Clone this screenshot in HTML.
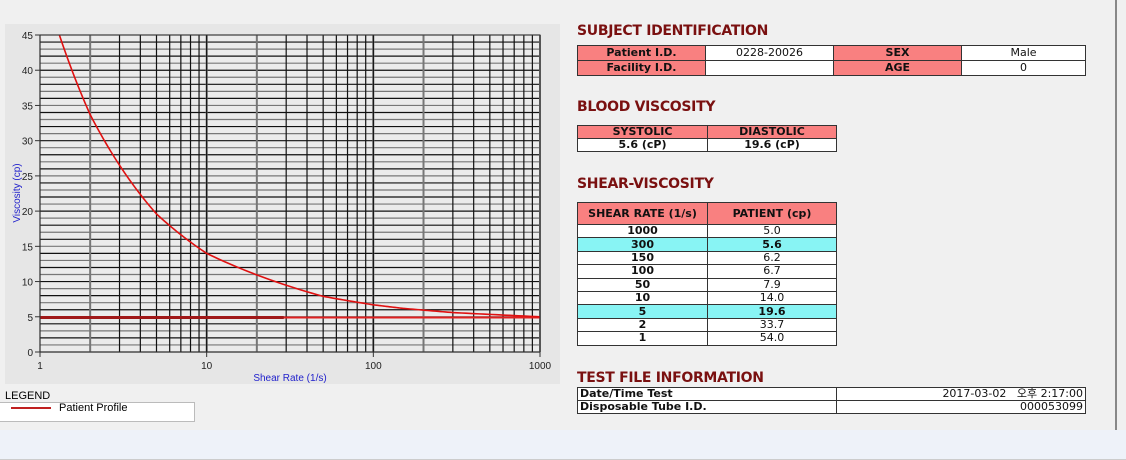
<!DOCTYPE html>
<html><head><meta charset="utf-8"><style>
body{margin:0;width:1126px;height:459px;background:#f0f0f0;position:relative;overflow:hidden;font-family:"Liberation Sans",sans-serif}
.abs{position:absolute}
.title{position:absolute;left:577px;font:bold 14px "DejaVu Sans","Liberation Sans",sans-serif;color:#7a1010;letter-spacing:-0.3px}
table{position:absolute;border-collapse:collapse;font:11px "DejaVu Sans","Liberation Sans","Noto Sans CJK KR",sans-serif;color:#111}
td{border:1px solid #333;padding:0 2px;text-align:center;height:14px;line-height:14px;background:#fff;white-space:nowrap}
td.h{background:#f98080;font-weight:bold}
tr.cy td{background:#88f4f4;font-weight:bold}
td.b{font-weight:bold}
.sv td{height:12.4px;line-height:12px}
</style></head><body>
<div class="abs" style="left:5px;top:24px;width:555px;height:360px;background:#e6e6e6"></div>
<svg class="abs" style="left:0;top:0" width="560" height="390" id="chart"></svg>
<div class="abs" style="left:0;top:402px;width:194px;height:18px;border:1px solid #bbb;border-left:none;background:#fff"></div>
<div class="abs" style="left:4px;top:390px;font-size:11px;background:#f0f0f0;padding:0 1px">LEGEND</div>
<div class="abs" style="left:11px;top:401px;font-size:11px;line-height:14px"><span style="display:inline-block;width:40px;height:2px;background:#c02020;vertical-align:middle;margin-right:8px"></span>Patient Profile</div>

<div class="title" style="top:23px">SUBJECT IDENTIFICATION</div>
<table style="left:577px;top:45px;width:509px">
<tr><td class="h" style="width:123px">Patient I.D.</td><td style="width:123px">0228-20026</td><td class="h" style="width:123px">SEX</td><td>Male</td></tr>
<tr><td class="h">Facility I.D.</td><td></td><td class="h">AGE</td><td>0</td></tr></table>

<div class="title" style="top:99px">BLOOD VISCOSITY</div>
<table style="left:577px;top:125px;width:260px">
<tr><td class="h" style="width:125px;height:12px;line-height:12px">SYSTOLIC</td><td class="h" style="height:12px;line-height:12px">DIASTOLIC</td></tr>
<tr><td class="b" style="height:12px;line-height:12px">5.6 (cP)</td><td class="b" style="height:12px;line-height:12px">19.6 (cP)</td></tr></table>

<div class="title" style="top:176px">SHEAR-VISCOSITY</div>
<table class="sv" style="left:577px;top:202px;width:260px">
<tr><td class="h" style="width:125px;height:21px;line-height:14px">SHEAR RATE (1/s)</td><td class="h" style="height:21px;line-height:14px">PATIENT (cp)</td></tr>
<tr><td class="b">1000</td><td>5.0</td></tr>
<tr class="cy"><td>300</td><td>5.6</td></tr>
<tr><td class="b">150</td><td>6.2</td></tr>
<tr><td class="b">100</td><td>6.7</td></tr>
<tr><td class="b">50</td><td>7.9</td></tr>
<tr><td class="b">10</td><td>14.0</td></tr>
<tr class="cy"><td>5</td><td>19.6</td></tr>
<tr><td class="b">2</td><td>33.7</td></tr>
<tr><td class="b">1</td><td>54.0</td></tr></table>

<div class="title" style="top:370px">TEST FILE INFORMATION</div>
<table style="left:577px;top:387px;width:509px">
<tr><td class="b" style="width:254px;text-align:left;height:12px;line-height:12px">Date/Time Test</td><td style="text-align:right;height:12px;line-height:12px">2017-03-02&nbsp;&nbsp;&nbsp;오후 2:17:00</td></tr>
<tr><td class="b" style="text-align:left;height:12px;line-height:12px">Disposable Tube I.D.</td><td style="text-align:right;height:12px;line-height:12px">000053099</td></tr></table>

<div class="abs" style="left:1115px;top:0;width:2px;height:430px;background:#888"></div>
<div class="abs" style="left:0;top:430px;width:1126px;height:29px;background:#eef2f9;border-bottom:1px solid #ccc"></div>

<script>
const shearRates=[1,2,5,10,50,100,150,300,1000];
const viscosity=[54.0,33.7,19.6,14.0,7.9,6.7,6.2,5.6,5.0];
const refLevel=[4.9];
const yTicks=[0,5,10,15,20,25,30,35,40,45];
const xTicks=[1,10,100,1000];
const X0=40,X1=540,Y0=352,Y1=35;
const xs=v=>X0+(Math.log10(v))/3*(X1-X0);
const ys=v=>Y0-v/45*(Y0-Y1);
const svg=document.getElementById('chart');
const NS='http://www.w3.org/2000/svg';
function mk(t,a){const e=document.createElementNS(NS,t);for(const k in a)e.setAttribute(k,a[k]);svg.appendChild(e);return e;}
let bg=mk('rect',{x:X0,y:Y1,width:X1-X0,height:Y0-Y1,fill:'#ebebeb'});


for(let v=0;v<=45;v++){const l=mk('line',{x1:X0,x2:X1,y1:ys(v),y2:ys(v),stroke:v%2?'#777':'#111','stroke-width':1.2});

}
for(let d=1;d<=100;d*=10)for(let m=1;m<=10;m++){const v=d*m;const g=(m==2||m==10);const l=mk('line',{x1:xs(v),x2:xs(v),y1:Y1,y2:Y0,stroke:g?'#777':'#111','stroke-width':g?2:1.2});

}
yTicks.forEach(v=>{mk('line',{x1:X0-5,x2:X0,y1:ys(v),y2:ys(v),stroke:'#333'});
const t=mk('text',{x:X0-7,y:ys(v)+4,'text-anchor':'end','font-size':10,fill:'#222','font-family':'Liberation Sans'});t.textContent=v;

});
xTicks.forEach(v=>{mk('line',{x1:xs(v),x2:xs(v),y1:Y0,y2:Y0+5,stroke:'#333'});
const t=mk('text',{x:xs(v),y:Y0+17,'text-anchor':'middle','font-size':10,fill:'#222','font-family':'Liberation Sans'});t.textContent=v;

});
let xt=mk('text',{x:290,y:381,'text-anchor':'middle','font-size':10,fill:'#2222cc','font-family':'Liberation Sans'});xt.textContent='Shear Rate (1/s)';


let yt=mk('text',{x:0,y:0,transform:'translate(20,193) rotate(-90)','text-anchor':'middle','font-size':10,fill:'#2222cc','font-family':'Liberation Sans'});yt.textContent='Viscosity (cp)';


const rl=mk('line',{x1:xs(1),x2:xs(1000),y1:ys(refLevel[0]),y2:ys(refLevel[0]),stroke:'#e02020','stroke-width':2});


const rl2=mk('line',{x1:xs(1),x2:xs(29),y1:ys(refLevel[0]),y2:ys(refLevel[0]),stroke:'#a01818','stroke-width':3});


const lx=shearRates.map(Math.log10),ly=viscosity.map(Math.log10);
let pts=[];
for(let i=0;i<lx.length-1;i++){for(let s=0;s<20;s++){const t=s/20;const a=lx[i]+(lx[i+1]-lx[i])*t,b=ly[i]+(ly[i+1]-ly[i])*t;pts.push([xs(10**a),ys(10**b)]);}}
pts.push([xs(shearRates[shearRates.length-1]),ys(viscosity[viscosity.length-1])]);
const cp=mk('clipPath',{id:'clp'});const cr=document.createElementNS(NS,'rect');cr.setAttribute('x',X0);cr.setAttribute('y',Y1);cr.setAttribute('width',X1-X0);cr.setAttribute('height',Y0-Y1);cp.appendChild(cr);
const cv=mk('polyline',{points:pts.map(p=>p.join(',')).join(' '),fill:'none',stroke:'#e01010','stroke-width':1.6,'clip-path':'url(#clp)'});


mk('rect',{x:X0,y:Y1,width:X1-X0,height:Y0-Y1,fill:'none',stroke:'#333'});
</script>
</body></html>
